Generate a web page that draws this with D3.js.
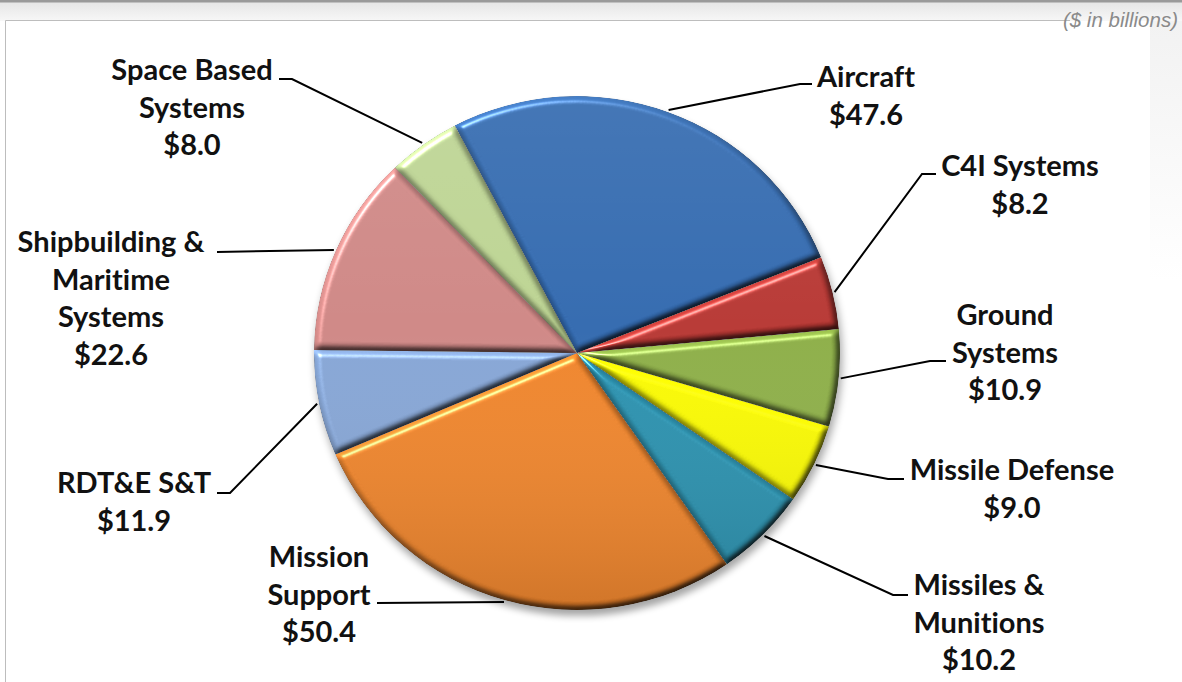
<!DOCTYPE html>
<html>
<head>
<meta charset="utf-8">
<script src="https://cdn.jsdelivr.net/npm/d3@7"></script>
<style>
  html, body { margin: 0; padding: 0; background: #fff; }
  svg { display: block; }
  .lbl { font-family: Lato, "Open Sans", sans-serif; font-weight: 700; font-size: 29px; fill: #111;
         font-variant-ligatures: none; }
  .unit { font-family: "Liberation Sans", Arial, sans-serif; font-style: italic; font-size: 20.5px; fill: #8a8a8a; }
</style>
</head>
<body>
<script>
// Procurement budget by category, $ in billions
const categories = ["Aircraft", "C4I Systems", "Ground Systems", "Missile Defense",
  "Missiles & Munitions", "Mission Support", "RDT&E S&T",
  "Shipbuilding & Maritime Systems", "Space Based Systems"];
const values = [47.6, 8.2, 10.9, 9.0, 10.2, 50.4, 11.9, 22.6, 8.0];
// how each category name wraps onto lines
const labelLines = [["Aircraft"], ["C4I Systems"], ["Ground", "Systems"], ["Missile Defense"],
  ["Missiles &", "Munitions"], ["Mission", "Support"], ["RDT&E S&T"],
  ["Shipbuilding &", "Maritime", "Systems"], ["Space Based", "Systems"]];
const colors = ["#3167ab", "#b33632", "#89aa45", "#f4f400", "#288daa",
  "#ea8129", "#82a1d0", "#ca8482", "#b8cf8f"];
const unitNote = "($ in billions)";

// label placement: text centre x, first baseline, elbow and tail of the leader line
const labelLayout = [
  { x: 866, y: 87, elbow: [800, 84], tail: [812, 84] },
  { x: 1020, y: 176, elbow: [922, 174], tail: [936, 174] },
  { x: 1005, y: 325, elbow: [930, 361], tail: [946, 361] },
  { x: 1012, y: 480, elbow: [888, 479], tail: [904, 479] },
  { x: 979, y: 595, elbow: [893, 595], tail: [908, 595] },
  { x: 319, y: 567, elbow: [377, 603], tail: [377, 603] },
  { x: 134, y: 493, elbow: [230, 493], tail: [217, 493] },
  { x: 111, y: 252, elbow: [217, 252], tail: [217, 252] },
  { x: 192, y: 80, elbow: [292, 79], tail: [279, 79] }
];

const W = 1182, H = 682;
const cx = 577, cy = 353, R = 263, sy = 0.977;
const lineH = 37.5;
const start = -27.7 * Math.PI / 180;

const svg = d3.select("body").append("svg").attr("width", W).attr("height", H);
const defs = svg.append("defs");

// bevel lighting applied to each slice
const f = defs.append("filter").attr("id", "bevel")
  .attr("x", "-10%").attr("y", "-10%").attr("width", "120%").attr("height", "120%")
  .attr("color-interpolation-filters", "sRGB");
f.append("feGaussianBlur").attr("in", "SourceAlpha").attr("stdDeviation", 3).attr("result", "b");
f.append("feDiffuseLighting").attr("in", "b").attr("surfaceScale", 5).attr("diffuseConstant", 1)
  .attr("lighting-color", "#fff").attr("result", "d")
  .append("feDistantLight").attr("azimuth", 235).attr("elevation", 50);
f.append("feComposite").attr("in", "SourceGraphic").attr("in2", "d").attr("operator", "arithmetic")
  .attr("k1", 1.0).attr("k2", 0.23).attr("k3", 0).attr("k4", 0).attr("result", "lit");
f.append("feSpecularLighting").attr("in", "b").attr("surfaceScale", 5).attr("specularConstant", 0.55)
  .attr("specularExponent", 40).attr("lighting-color", "#fff").attr("result", "s")
  .append("feDistantLight").attr("azimuth", 235).attr("elevation", 45);
f.append("feComposite").attr("in", "s").attr("in2", "SourceAlpha").attr("operator", "in").attr("result", "s2");
f.append("feComposite").attr("in", "lit").attr("in2", "s2").attr("operator", "arithmetic")
  .attr("k1", 0).attr("k2", 1).attr("k3", 1).attr("k4", 0).attr("result", "lit2");
f.append("feComposite").attr("in", "lit2").attr("in2", "SourceAlpha").attr("operator", "in");

// soft shadow under the pie
const sh = defs.append("filter").attr("id", "shadow")
  .attr("x", "-10%").attr("y", "-10%").attr("width", "120%").attr("height", "120%");
sh.append("feGaussianBlur").attr("stdDeviation", 4);

// overall top-to-bottom shading
const g1 = defs.append("linearGradient").attr("id", "shade").attr("x1", 0).attr("y1", 0).attr("x2", 0).attr("y2", 1);
g1.append("stop").attr("offset", "0%").attr("stop-color", "#fff").attr("stop-opacity", 0.07);
g1.append("stop").attr("offset", "45%").attr("stop-color", "#fff").attr("stop-opacity", 0);
g1.append("stop").attr("offset", "100%").attr("stop-color", "#000").attr("stop-opacity", 0.13);

const g2 = defs.append("linearGradient").attr("id", "topband").attr("x1", 0).attr("y1", 0).attr("x2", 0).attr("y2", 1);
g2.append("stop").attr("offset", "0%").attr("stop-color", "#e4e4e4");
g2.append("stop").attr("offset", "100%").attr("stop-color", "#f7f7f7");

const g3 = defs.append("linearGradient").attr("id", "sideband").attr("x1", 0).attr("y1", 0).attr("x2", 0).attr("y2", 1);
g3.append("stop").attr("offset", "0%").attr("stop-color", "#f2f2f2");
g3.append("stop").attr("offset", "100%").attr("stop-color", "#fff");

// page frame
svg.append("rect").attr("x", 0).attr("y", 0).attr("width", W).attr("height", 21).attr("fill", "url(#topband)");
svg.append("rect").attr("x", 0).attr("y", 0).attr("width", W).attr("height", 2.5).attr("fill", "#9a9a9a");
svg.append("rect").attr("x", 1150).attr("y", 21).attr("width", 32).attr("height", 260).attr("fill", "url(#sideband)");
svg.append("line").attr("x1", 5.5).attr("x2", 1070).attr("y1", 20.5).attr("y2", 20.5).attr("stroke", "#bdbdbd");
svg.append("line").attr("x1", 5.5).attr("x2", 5.5).attr("y1", 20.5).attr("y2", H).attr("stroke", "#bdbdbd");
svg.append("text").attr("class", "unit").attr("x", 1178).attr("y", 27).attr("text-anchor", "end").text(unitNote);

const pie = d3.pie().sort(null).value(d => d).startAngle(start).endAngle(start + 2 * Math.PI);
const arcs = pie(values);
const arc = d3.arc().innerRadius(0).outerRadius(R);

const g = svg.append("g").attr("transform", `translate(${cx},${cy}) scale(1,${sy})`);

g.append("ellipse").attr("cx", 2).attr("cy", 6).attr("rx", R).attr("ry", R)
  .attr("fill", "#000").attr("opacity", 0.35).attr("filter", "url(#shadow)");

g.selectAll("path.slice").data(arcs).join("path")
  .attr("class", "slice")
  .attr("d", arc)
  .attr("fill", (d, i) => colors[i])
  .attr("filter", "url(#bevel)");

g.append("circle").attr("r", R).attr("fill", "url(#shade)").attr("pointer-events", "none");

// leader lines
const anchor = d => {
  const a = (d.startAngle + d.endAngle) / 2;
  return [cx + (R + 2) * Math.sin(a), cy - (R + 2) * sy * Math.cos(a)];
};
const line = d3.line();
svg.selectAll("path.leader").data(arcs).join("path")
  .attr("class", "leader")
  .attr("d", (d, i) => line([anchor(d), labelLayout[i].elbow, labelLayout[i].tail]))
  .attr("fill", "none").attr("stroke", "#000").attr("stroke-width", 2);

// labels
svg.selectAll("text.lbl").data(arcs).join("text")
  .attr("class", "lbl")
  .attr("text-anchor", "middle")
  .each(function (d, i) {
    const t = d3.select(this);
    const lines = labelLines[i].concat(["$" + values[i].toFixed(1)]);
    lines.forEach((s, k) => {
      t.append("tspan").attr("x", labelLayout[i].x).attr("y", labelLayout[i].y + k * lineH).text(s);
    });
  });
</script>
</body>
</html>
